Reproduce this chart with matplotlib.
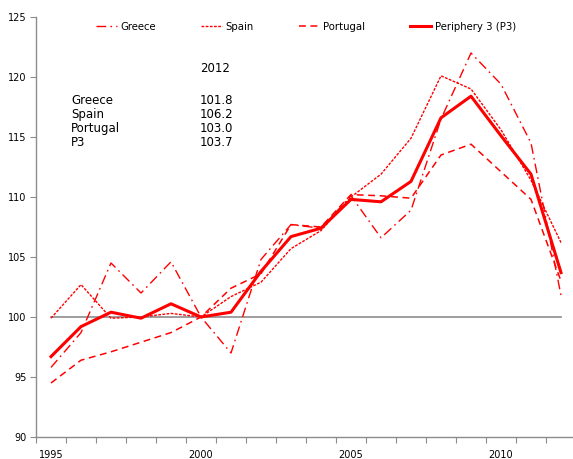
import numpy as np
import matplotlib
matplotlib.use('Agg')
import matplotlib.pyplot as plt

# data
years = list(range(1995, 2013))
greece = [95.8, 98.7, 104.5, 102.0, 104.6, 100.0, 97.0, 104.8, 107.7, 107.4,
          110.1, 106.6, 108.9, 116.5, 122.0, 119.4, 114.5, 101.8]
spain = [99.9, 102.7, 99.9, 100.0, 100.3, 100.0, 101.7, 102.9, 105.7, 107.2,
         110.0, 111.9, 114.9, 120.1, 119.0, 115.6, 111.4, 106.2]
portugal = [94.5, 96.4, 97.1, 97.9, 98.7, 100.0, 102.4, 103.6, 107.7, 107.5,
            110.2, 110.1, 109.9, 113.5, 114.4, 112.1, 109.8, 103.0]
p3 = [96.7, 99.2, 100.4, 99.9, 101.1, 100.0, 100.4, 103.8, 106.7, 107.4,
      109.8, 109.6, 111.3, 116.6, 118.4, 115.1, 111.9, 103.7]
base = [100.0] * len(years)
label_years = [1995, 2000, 2005, 2010]
table_names = ['Greece', 'Spain', 'Portugal', 'P3']
table_vals = ['101.8', '106.2', '103.0', '103.7']

plt.rcParams['font.family'] = 'DejaVu Sans'
red = '#ff0000'
grey = '#8c8c8c'

fig = plt.figure(figsize=(5.73, 4.59), dpi=100)
# plot area runs a little past the right edge, as in the cropped original
ax = fig.add_axes([36 / 573, 22 / 459, 540 / 573, 420 / 459])

x = np.arange(len(years))
ax.plot(x, base, color=grey, lw=1.2, zorder=1)
ax.plot(x, greece, color=red, lw=1.0, ls=(0, (7, 3, 1.2, 3)), label='Greece')
ax.plot(x, spain, color=red, lw=1.0, ls=(0, (2, 1)), label='Spain')
ax.plot(x, portugal, color=red, lw=1.1, ls=(0, (4.5, 3)), label='Portugal')
ax.plot(x, p3, color=red, lw=2.2, label='Periphery 3 (P3)')

ax.set_xlim(-0.5, len(years) - 0.5)
ax.set_ylim(90, 125)

# category axis: ticks between categories, labels at centres
ax.set_xticks(np.arange(-0.5, len(years), 1.0))
ax.set_xticklabels([])
ax.set_xticks([years.index(y) for y in label_years], minor=True)
ax.set_xticklabels([str(y) for y in label_years], minor=True)
ax.tick_params(axis='x', which='major', length=4, color=grey, direction='out')
ax.tick_params(axis='x', which='minor', length=0, pad=9, labelsize=7)

ax.set_yticks(np.arange(90, 126, 5))
ax.tick_params(axis='y', length=4, color=grey, direction='out', pad=3, labelsize=7)

for s in ['top', 'right']:
    ax.spines[s].set_visible(False)
for s in ['left', 'bottom']:
    ax.spines[s].set_color(grey)
    ax.spines[s].set_linewidth(1.0)

leg = ax.legend(loc='upper center', ncol=4, frameon=False, fontsize=7.3,
                bbox_to_anchor=(0.5, 1.01), handlelength=2.1,
                handletextpad=0.35, columnspacing=4.4)

# small table of 2012 values
fs = 8.5
ax.text(200 / 573, 1 - 69 / 459, '2012', transform=fig.transFigure, fontsize=fs, va='center')
for i, (n, v) in enumerate(zip(table_names, table_vals)):
    yy = 1 - (101 + i * 13.7) / 459
    ax.text(71 / 573, yy, n, transform=fig.transFigure, fontsize=fs, va='center')
    ax.text(200 / 573, yy, v, transform=fig.transFigure, fontsize=fs, va='center')

plt.savefig('out.png', dpi=100)
plt.close()
